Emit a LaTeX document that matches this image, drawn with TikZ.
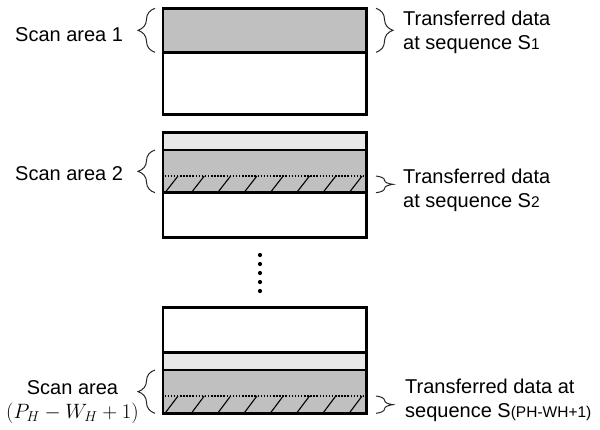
\documentclass[tikz,border=0pt]{standalone}
\usepackage{fontspec}
\setmainfont{Liberation Sans}
\usetikzlibrary{decorations.pathreplacing}

\definecolor{scangray}{RGB}{192,192,192}
\definecolor{nextgray}{RGB}{232,232,232}

\newcommand{\seqidx}[1]{{\fontsize{15.5}{15.5}\selectfont #1}}

\begin{document}
\begin{tikzpicture}[x=1pt,y=-1pt,
  font=\fontsize{20}{24}\selectfont,
  frame/.style={line width=2.6pt},
  txt/.style={inner sep=0pt,anchor=base west,align=left},
  hatchline/.style={line width=1.1pt},
  cutline/.style={line width=1.5pt,dash pattern=on 1.5pt off 1.6pt},
  bracel/.style={decorate,decoration={brace,amplitude=17pt},line width=1pt,black!85},
  bracer/.style={decorate,decoration={brace,amplitude=17pt},line width=1pt,black!85}]
\useasboundingbox (0,0) rectangle (600,429);

% frame 1
\fill[scangray] (163,8.3) rectangle (366.7,52.3);
\draw[frame] (163,8.3) rectangle (366.7,114.3);
\draw[frame] (163,52.3) -- (366.7,52.3);

% frame 2
\fill[nextgray] (163,132.7) rectangle (366.7,150);
\fill[scangray] (163,150) rectangle (366.7,192.7);
\foreach \x in {0,...,7}
  \draw[hatchline] (165+26.3*\x,192.7) -- (178+26.3*\x,176);
\draw[cutline] (164.5,176) -- (365.2,176);
\draw[frame] (163,132.7) rectangle (366.7,237.3);
\draw[frame] (163,150) -- (366.7,150);
\draw[frame] (163,192.7) -- (366.7,192.7);

% dots between
\foreach \y in {255,264,273,282,291}
  \fill (260,\y) circle (2.1);

% frame 3
\fill[nextgray] (163,352.3) rectangle (366.7,370);
\fill[scangray] (163,370) rectangle (366.7,413.3);
\foreach \x in {0,...,7}
  \draw[hatchline] (165+26.3*\x,413.3) -- (178+26.3*\x,396);
\draw[cutline] (164.5,396) -- (365.2,396);
\draw[frame] (163,307.3) rectangle (366.7,413.3);
\draw[frame] (163,352.3) -- (366.7,352.3);
\draw[frame] (163,370) -- (366.7,370);

% braces
\draw[bracel] (155,52.3) -- (155,8.3);
\draw[bracel] (155,192.7) -- (155,150);
\draw[bracel] (155,413.3) -- (155,370);
\draw[bracer] (376,8.3) -- (376,52.3);
\draw[bracer] (376,176) -- (376,192.7);
\draw[bracer] (376,396) -- (376,413.3);

% labels
\node[txt] (scan1) at (15,41.7) {Scan area 1};
\node[txt] (scan2) at (15,180) {Scan area 2};
\node[txt,align=center] (scan3) at (6,418) {Scan area\\$\bigl(P_H-W_H+1\bigr)$};
\node[txt] (seq1) at (403,49) {Transferred data\\at sequence S\seqidx{1}};
\node[txt] (seq2) at (403,207) {Transferred data\\at sequence S\seqidx{2}};
\node[txt] (seq3) at (405,417.3) {Transferred data at\\sequence S\seqidx{(PH-WH+1)}};
\end{tikzpicture}
\end{document}
